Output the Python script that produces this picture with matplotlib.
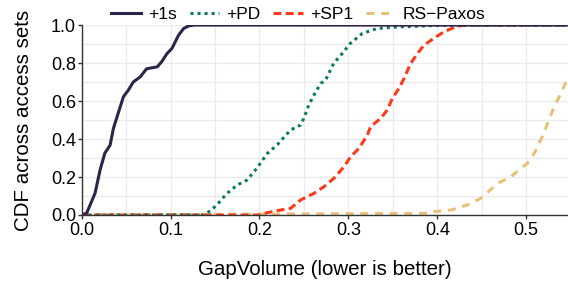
import matplotlib
matplotlib.use("Agg")
import matplotlib.pyplot as plt
from matplotlib.ticker import MultipleLocator

plt.rcParams['font.family'] = ['Liberation Sans', 'DejaVu Sans']

# CDF curves (gap volume, cumulative fraction)
x_1s = [0.0, 0.0056, 0.015, 0.0207, 0.026, 0.032, 0.0357, 0.041, 0.047, 0.0526, 0.058,
        0.066, 0.073, 0.085, 0.09, 0.096, 0.1015, 0.109, 0.1147, 0.12, 0.126, 0.6]
y_1s = [0.0, 0.01, 0.114, 0.237, 0.325, 0.368, 0.456, 0.535, 0.623, 0.658, 0.70,
        0.728, 0.77, 0.78, 0.807, 0.85, 0.877, 0.947, 0.982, 0.995, 1.0, 1.0]

x_pd = [0.0, 0.137, 0.145, 0.152, 0.1635, 0.175, 0.186, 0.197, 0.209, 0.22, 0.2348,
        0.2462, 0.25, 0.2555, 0.263, 0.269, 0.2743, 0.2834, 0.293, 0.302, 0.3156,
        0.3326, 0.355, 0.392, 0.418, 0.6]
y_pd = [0.0, 0.0, 0.023, 0.053, 0.114, 0.158, 0.184, 0.246, 0.325, 0.37, 0.447,
        0.474, 0.51, 0.58, 0.647, 0.693, 0.71, 0.798, 0.85, 0.903, 0.956,
        0.982, 0.99, 0.997, 1.0, 1.0]

x_sp1 = [0.0, 0.201, 0.2085, 0.2235, 0.235, 0.2462, 0.2613, 0.2725, 0.2837, 0.295,
         0.3025, 0.3119, 0.3213, 0.325, 0.3363, 0.3438, 0.3494, 0.3569, 0.3626, 0.37,
         0.3776, 0.385, 0.396, 0.4077, 0.4227, 0.434, 0.6]
y_sp1 = [0.0, 0.0, 0.012, 0.026, 0.035, 0.079, 0.114, 0.149, 0.193, 0.254,
         0.307, 0.351, 0.421, 0.465, 0.509, 0.553, 0.614, 0.667, 0.719, 0.798,
         0.85, 0.894, 0.93, 0.965, 0.995, 1.0, 1.0]

x_rs = [0.0, 0.392, 0.397, 0.4153, 0.434, 0.449, 0.468, 0.483, 0.494, 0.5014,
        0.509, 0.518, 0.524, 0.5315, 0.539, 0.5466, 0.55]
y_rs = [0.0, 0.009, 0.018, 0.026, 0.053, 0.088, 0.167, 0.202, 0.246, 0.272,
        0.325, 0.412, 0.482, 0.57, 0.64, 0.719, 0.75]

fig = plt.figure(figsize=(5.68, 2.82), dpi=100)
ax = fig.add_axes([0.1438, 0.2376, 0.8562, 0.6735])

lw = 2.2
ax.plot(x_rs, y_rs, color='#e6c27a', lw=lw, ls=(0, (2.6, 2.2)), label='RS\u2212Paxos')
ax.plot(x_sp1, y_sp1, color='#fb3a1c', lw=lw, ls=(0, (2.6, 1.4)), label='+SP1')
ax.plot(x_pd, y_pd, color='#0b7a5c', lw=lw, ls=(0, (1.0, 1.3)), label='+PD')
ax.plot(x_1s, y_1s, color='#2e2449', lw=lw, ls='-', label='+1s')

ax.set_xlim(0, 0.547)
ax.set_ylim(0, 1.0)
ax.xaxis.set_major_locator(MultipleLocator(0.1))
ax.xaxis.set_minor_locator(MultipleLocator(0.05))
ax.yaxis.set_major_locator(MultipleLocator(0.2))
ax.yaxis.set_minor_locator(MultipleLocator(0.1))
ax.grid(which='both', color='#ebebeb', lw=1.0)
ax.set_axisbelow(True)

for s in ['top', 'right']:
    ax.spines[s].set_visible(False)
for s in ['left', 'bottom']:
    ax.spines[s].set_color('#333333')
    ax.spines[s].set_linewidth(1.0)
ax.tick_params(which='major', length=3, width=1, color='#333333', labelsize=13)
ax.tick_params(axis='y', pad=1)
ax.tick_params(axis='x', pad=2)
ax.tick_params(which='minor', length=0)

ax.set_xlabel('GapVolume (lower is better)', fontsize=14.8, labelpad=15)
ax.set_ylabel('CDF across access sets', fontsize=14.8, labelpad=13)

h, l = ax.get_legend_handles_labels()
fig.legend(h[::-1], l[::-1], loc='upper center', bbox_to_anchor=(0.525, 1.03), ncol=4,
           frameon=False, fontsize=12.5, handlelength=1.7, handletextpad=0.4,
           columnspacing=0.75)

fig.savefig('out.png', dpi=100)
